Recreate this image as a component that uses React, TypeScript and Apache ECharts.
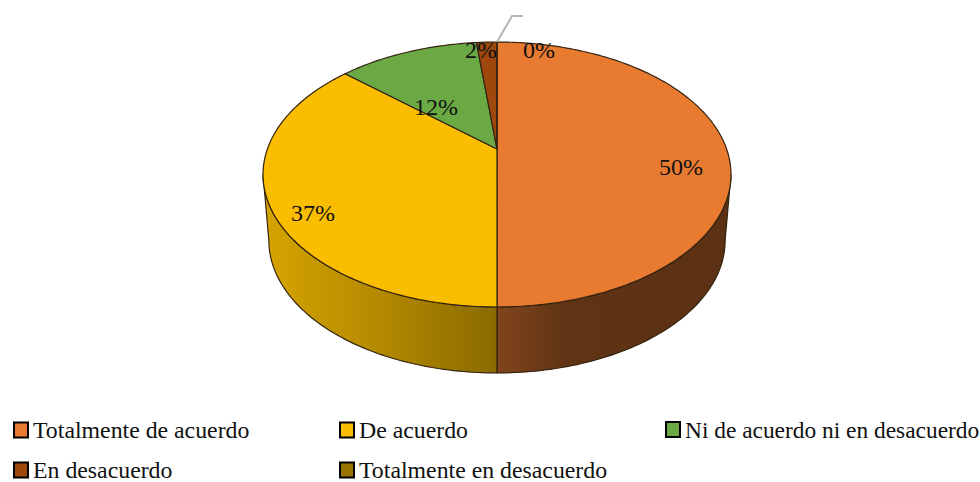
import React, { useEffect, useRef } from "react";
import * as echarts from "echarts";

const categories = [
  "Totalmente de acuerdo",
  "De acuerdo",
  "Ni de acuerdo ni en desacuerdo",
  "En desacuerdo",
  "Totalmente en desacuerdo",
];
const values = [50, 36.6, 11.7, 1.7, 0];
const colors = ["#E97B31", "#FBBD00", "#6BA944", "#9E480E", "#997300"];
const legendSpots = [
  [13, 418],
  [339, 418],
  [665, 418],
  [13, 458],
  [339, 458],
];
const legendFontSizes = [23.8, 23.8, 23.4, 23.8, 23.8];
const legendTextPadding = [
  [0, 0, 0, 0],
  [0, 0, 0, 0],
  [0, 0, 0, 0],
  [0, 0, 8, 0],
  [0, 0, 8, 0],
];
const labelSpots = [
  [681, 167],
  [313, 213],
  [436, 107],
  [481, 50],
  [539, 50],
];
const wallStops: Record<number, [number, string][]> = {
  0: [
    [0, "#82451D"],
    [0.3, "#5F3314"],
    [1, "#5C3013"],
  ],
  1: [
    [0, "#D6A400"],
    [0.5, "#B38900"],
    [1, "#8A6A00"],
  ],
};
const wallSpan: Record<number, [number, number]> = { 0: [497, 729], 1: [265, 497] };

// Perspective view of the pie disc
const CX = 497;
const K = -0.19245;
const A = 98.9;
const B = 149;
const C = 229.6;
const DEPTH = 66;
const SHRINK = 0.975;
const EDGE = "#33230F";
// Rim angles (clockwise from the back) between which the wall faces the viewer
const WALL_FROM = 101.1;
const WALL_TO = 258.9;

function rim(deg: number): [number, number] {
  const t = (deg * Math.PI) / 180;
  const u = Math.sin(t);
  const v = -Math.cos(t);
  const w = 1 + K * v;
  return [CX + (C * u) / w, (A * v + B) / w];
}
function sample(a: number, b: number): number[] {
  const n = Math.max(1, Math.ceil(Math.abs(b - a)));
  const out: number[] = [];
  for (let i = 0; i <= n; i++) out.push(a + ((b - a) * i) / n);
  return out;
}
function lower(p: [number, number]): [number, number] {
  return [CX + SHRINK * (p[0] - CX), p[1] + DEPTH];
}

const spans: [number, number][] = (() => {
  const total = values.reduce((s, v) => s + v, 0);
  let acc = 0;
  return values.map((v) => {
    const start = (acc / total) * 360;
    acc += v;
    return [start, (acc / total) * 360] as [number, number];
  });
})();

function sliceRenderer(index: number) {
  return (_params: any, api: any) => {
    const start = api.value(0) as number;
    const end = api.value(1) as number;
    const children: any[] = [];
    const wFrom = Math.max(start, WALL_FROM);
    const wTo = Math.min(end, WALL_TO);
    if (wTo > wFrom) {
      const top = sample(wFrom, wTo).map(rim);
      const bottom = top.map(lower).reverse();
      const span = wallSpan[index];
      children.push({
        type: "polygon",
        silent: true,
        shape: { points: [...top, ...bottom] },
        style: {
          fill: new echarts.graphic.LinearGradient(
            span[0],
            0,
            span[1],
            0,
            wallStops[index].map(([offset, color]) => ({ offset, color })),
            true
          ),
          stroke: EDGE,
          lineWidth: 1.2,
        },
      });
    }
    children.push({
      type: "polygon",
      silent: true,
      shape: { points: [[CX, B], ...sample(start, end).map(rim)] },
      style: { fill: colors[index], stroke: EDGE, lineWidth: 1.2 },
    });
    return { type: "group", children };
  };
}

export default function App() {
  const ref = useRef<HTMLDivElement>(null);
  useEffect(() => {
    document.body.style.margin = "0";
    const chart = echarts.init(ref.current!, null, { renderer: "svg" });
    const fontFamily = '"Liberation Serif", "Times New Roman", serif';
    chart.setOption({
      animation: false,
      backgroundColor: "#ffffff",
      legend: categories.map((name, i) => ({
        show: true,
        data: [name],
        left: legendSpots[i][0],
        top: legendSpots[i][1],
        padding: 0,
        itemWidth: 14,
        itemHeight: 15,
        selectedMode: false,
        icon: "rect",
        itemStyle: { borderColor: "#000000", borderWidth: 2 },
        textStyle: {
          fontFamily,
          fontSize: legendFontSizes[i],
          padding: legendTextPadding[i],
          color: "#111111",
        },
      })),
      series: categories.map((name, i) => ({
        type: "custom",
        name,
        coordinateSystem: "none",
        silent: true,
        itemStyle: { color: colors[i] },
        data: [spans[i]],
        renderItem: sliceRenderer(i),
      })),
      graphic: [
        {
          type: "polyline",
          z: 50,
          silent: true,
          shape: { points: [[497, 42], [512, 16], [523, 16]] },
          style: { stroke: "#B5B5B5", lineWidth: 2, fill: "none" },
        },
        ...values.map((v, i) => ({
          type: "text",
          z: 60,
          silent: true,
          style: {
            text: `${Math.round(v)}%`,
            x: labelSpots[i][0],
            y: labelSpots[i][1],
            align: "center",
            verticalAlign: "middle",
            fontFamily,
            fontSize: 24,
            fill: "#111111",
          },
        })),
      ],
    });
    return () => chart.dispose();
  }, []);
  return (
    <div
      ref={ref}
      style={{ position: "absolute", left: 0, top: 0, width: 980, height: 482 }}
    />
  );
}
